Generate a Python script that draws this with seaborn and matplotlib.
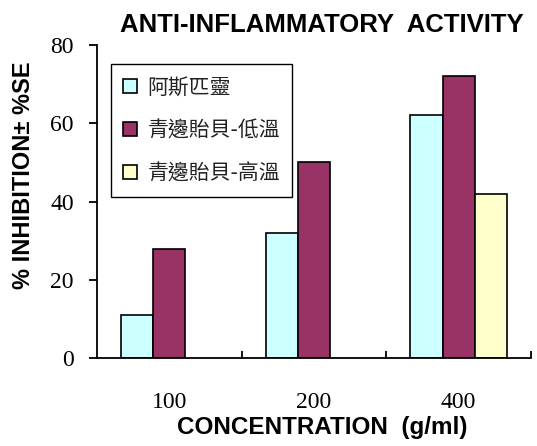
import numpy as np
import pandas as pd
import matplotlib
matplotlib.use("Agg")
import matplotlib.pyplot as plt
import seaborn as sns

# ---- data ----
concentrations = ["100", "200", "400"]
samples = ["阿斯匹靈", "青邊貽貝-低溫", "青邊貽貝-高溫"]
aspirin = [11, 32, 62]
mussel_low = [28, 50, 72]
mussel_high = [np.nan, np.nan, 42]
bar_colors = ["#CCFFFF", "#993366", "#FFFFCC"]
y_ticks = [0, 20, 40, 60, 80]

rows = []
for name, vals in zip(samples, [aspirin, mussel_low, mussel_high]):
    for c, v in zip(concentrations, vals):
        rows.append({"conc": c, "sample": name, "value": v})
df = pd.DataFrame(rows).dropna()

sns.set_style("white")
plt.rcParams["font.family"] = ["Liberation Sans", "DejaVu Sans"]
plt.rcParams["text.color"] = "black"
plt.rcParams["axes.labelcolor"] = "black"
plt.rcParams["xtick.color"] = "black"
plt.rcParams["ytick.color"] = "black"

fig = plt.figure(figsize=(5.37, 4.46), dpi=100)
ax = fig.add_axes([0.1806, 0.1966, 0.8082, 0.7025])

sns.barplot(data=df, x="conc", y="value", hue="sample",
            order=concentrations, hue_order=samples,
            palette=bar_colors, width=0.667, edgecolor="black",
            linewidth=1.2, errorbar=None, saturation=1, ax=ax)

ax.set_xlim(-0.5, 2.5)
ax.set_ylim(0, 80)
ax.set_yticks(y_ticks)
ax.set_yticklabels([str(t) for t in y_ticks], family="Liberation Serif", fontsize=17)
ax.set_xticks(range(len(concentrations)))
ax.set_xticklabels(concentrations, family="Liberation Serif", fontsize=17)
ax.set_xticks([0.5, 1.5, 2.5], minor=True)

ax.tick_params(axis="y", direction="out", length=5.8, width=1.3, pad=11,
               left=True, color="black", labelcolor="black")
ax.tick_params(axis="x", which="major", length=0, pad=24, labelcolor="black")
ax.tick_params(axis="x", which="minor", direction="in", length=5, width=1.3,
               bottom=True, color="black")

for side in ["top", "right"]:
    ax.spines[side].set_visible(False)
for side in ["left", "bottom"]:
    ax.spines[side].set_color("black")
    ax.spines[side].set_linewidth(1.3)

ax.set_xlabel("CONCENTRATION  (g/ml)", fontsize=17.5, fontweight="bold", color="black")
ax.xaxis.set_label_coords(0.52, -0.185)
ax.set_ylabel("% INHIBITION± %SE", fontsize=17, fontweight="bold", color="black")
ax.yaxis.set_label_coords(-0.143, 0.585)

fig.text(322 / 537, 1 - 32.5 / 446, "ANTI-INFLAMMATORY  ACTIVITY",
         ha="center", va="baseline", fontsize=18.5, fontweight="bold", color="black")

handles, labels = ax.get_legend_handles_labels()
if ax.get_legend() is not None:
    ax.get_legend().remove()
leg = ax.legend(handles, labels, loc="upper left", bbox_to_anchor=(0.032, 0.939),
                borderaxespad=0, prop={"family": ["Noto Sans CJK TC", "DejaVu Sans"], "size": 15},
                handlelength=0.65, handleheight=0.65, handletextpad=0.5,
                labelspacing=1.0, borderpad=0.6, fancybox=False, framealpha=1,
                edgecolor="black")
leg.get_frame().set_linewidth(1.0)
for t in leg.get_texts():
    t.set_color("#222222")

fig.savefig("out.png", dpi=100)
